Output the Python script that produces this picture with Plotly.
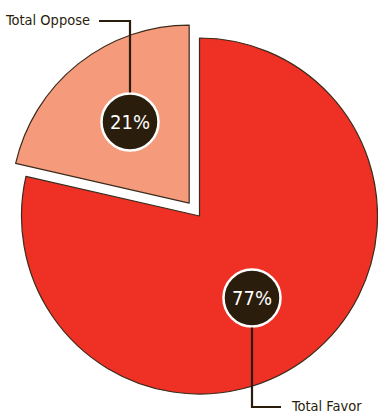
import math
import plotly.graph_objects as go

# Data
categories = ["Total Favor", "Total Oppose"]
values = [77, 21]
pct_labels = ["77%", "21%"]
colors = ["#EE3124", "#F59B7C"]
pulls = [0.0, 0.093]

W, H = 378, 418
CX, CY, R = 199.5, 216.0, 178.0   # pixel geometry of the pie
EDGE = "#3b2b1c"
DARK = "#2a1d0c"
FONT = "DejaVu Sans Condensed"

def px(x):
    return x / W

def py(y):
    return 1 - y / H

total = sum(values)
fig = go.Figure()

# slice angles (clockwise from 12 o'clock)
starts, mids = [], []
acc = 0.0
for v in values:
    frac = v / total
    starts.append(acc)
    mids.append(acc + frac * 180.0)
    acc += frac * 360.0

for i, cat in enumerate(categories):
    ang = math.radians(mids[i])
    dx = pulls[i] * R * math.sin(ang)
    dy = -pulls[i] * R * math.cos(ang)
    cx, cy = CX + dx, CY + dy
    col = ["rgba(0,0,0,0)"] * len(values)
    lcol = ["rgba(0,0,0,0)"] * len(values)
    col[i] = colors[i]
    lcol[i] = EDGE
    fig.add_trace(go.Pie(
        labels=categories, values=values, sort=False,
        direction="clockwise", rotation=0,
        marker=dict(colors=col, line=dict(color=lcol, width=1.2)),
        textinfo="none", hoverinfo="skip", showlegend=False,
        domain=dict(x=[px(cx - R), px(cx + R)], y=[py(cy + R), py(cy - R)]),
    ))

# label badges
badge_pos = {"Total Favor": (252, 298), "Total Oppose": (130, 122)}
BR = 28.5
shapes = []
annotations = []
for i, cat in enumerate(categories):
    bx, by = badge_pos[cat]
    shapes.append(dict(type="circle", xref="paper", yref="paper",
                       x0=px(bx - BR), x1=px(bx + BR), y0=py(by + BR), y1=py(by - BR),
                       fillcolor=DARK, line=dict(color="white", width=2.5), layer="above"))
    annotations.append(dict(x=px(bx), y=py(by), xref="paper", yref="paper",
                            text=pct_labels[i], showarrow=False,
                            font=dict(family=FONT, size=20, color="white"),
                            xanchor="center", yanchor="middle"))

# leader lines
# Oppose: up then left
bx, by = badge_pos["Total Oppose"]
shapes.append(dict(type="path", xref="paper", yref="paper",
                   path=f"M {px(bx)} {py(by - BR - 1)} L {px(bx)} {py(21)} L {px(99)} {py(21)}",
                   line=dict(color=DARK, width=2.2), layer="above"))
annotations.append(dict(x=px(92), y=py(20), xref="paper", yref="paper",
                        text="Total Oppose", showarrow=False,
                        font=dict(family=FONT, size=14.5, color=DARK),
                        xanchor="right", yanchor="middle"))
# Favor: down then right
bx, by = badge_pos["Total Favor"]
shapes.append(dict(type="path", xref="paper", yref="paper",
                   path=f"M {px(bx)} {py(by + BR + 1)} L {px(bx)} {py(407)} L {px(281)} {py(407)}",
                   line=dict(color=DARK, width=2.2), layer="above"))
annotations.append(dict(x=px(289), y=py(406), xref="paper", yref="paper",
                        text="Total Favor", showarrow=False,
                        font=dict(family=FONT, size=14.5, color=DARK),
                        xanchor="left", yanchor="middle"))

fig.update_layout(
    width=W, height=H,
    margin=dict(l=0, r=0, t=0, b=0),
    paper_bgcolor="white", plot_bgcolor="white",
    shapes=shapes, annotations=annotations,
    font=dict(family=FONT),
)

fig.write_html("out.html")
